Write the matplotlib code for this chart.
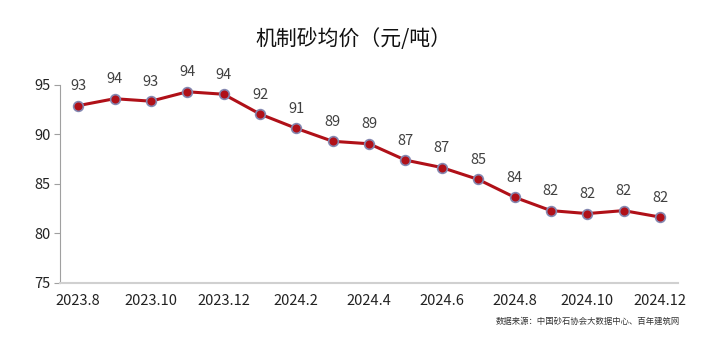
import matplotlib.pyplot as plt

plt.rcParams['font.family'] = ['Noto Sans CJK SC', 'DejaVu Sans']

months = ['2023.8', '2023.9', '2023.10', '2023.11', '2023.12', '2024.1',
          '2024.2', '2024.3', '2024.4', '2024.5', '2024.6', '2024.7',
          '2024.8', '2024.9', '2024.10', '2024.11', '2024.12']
price = [92.9, 93.6, 93.35, 94.3, 94.05, 92.05, 90.6, 89.3, 89.05,
         87.4, 86.65, 85.45, 83.65, 82.3, 82.0, 82.3, 81.65]

fig = plt.figure(figsize=(7.23, 3.38), dpi=100)
ax = fig.add_axes([0.083, 0.163, 0.855, 0.586])

x = list(range(len(months)))
ax.plot(x, price, color='#B01018', lw=2.2, marker='o', ms=7,
        mfc='#B01018', mec='#8487B0', mew=1.2, zorder=3)

for i, v in zip(x, price):
    ax.annotate(f'{v:.0f}', (i, v), xytext=(0, 9), textcoords='offset points',
                ha='center', va='bottom', fontsize=10.5, color='#404040')

ax.set_xlim(-0.5, 16.5)
ax.set_ylim(75, 95)
ax.set_yticks([75, 80, 85, 90, 95])
ax.set_xticks(x[::2])
ax.set_xticklabels(months[::2])

for s in ['top', 'right']:
    ax.spines[s].set_visible(False)
ax.spines['left'].set_color('#A0A0A0')
ax.spines['bottom'].set_color('#D0D0D0')
ax.spines['bottom'].set_linewidth(1.5)
ax.tick_params(axis='y', length=4, color='#A0A0A0', labelsize=10.5,
               labelcolor='#222222', pad=3)
ax.tick_params(axis='x', length=0, labelsize=10.5, labelcolor='#222222', pad=8)

fig.text(0.489, 0.885, '机制砂均价（元/吨）', ha='center', va='center',
         fontsize=15, color='#111111', fontweight='medium')
fig.text(0.94, 0.05, '数据来源：中国砂石协会大数据中心、百年建筑网',
         ha='right', va='center', fontsize=6, color='#333333')

fig.savefig('out.png', dpi=100)
